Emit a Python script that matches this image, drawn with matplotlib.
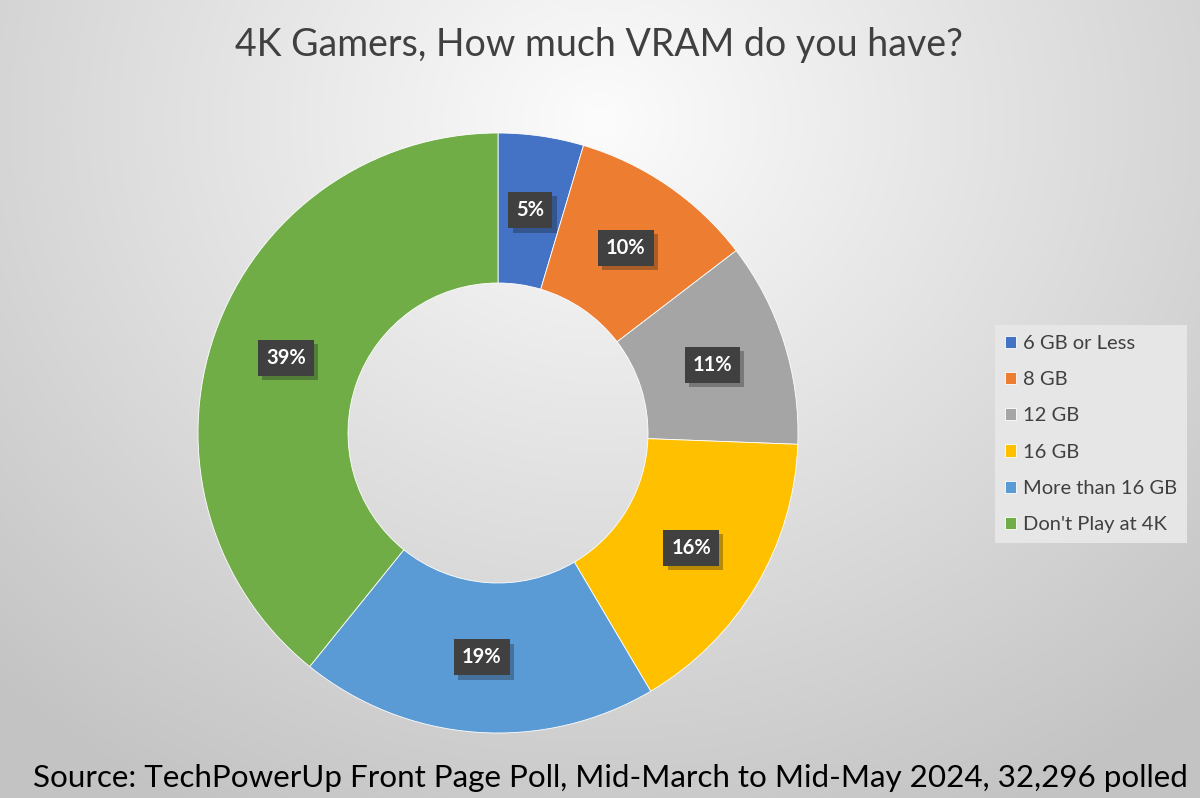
import numpy as np
import matplotlib
matplotlib.use("Agg")
import matplotlib.pyplot as plt
import matplotlib.patheffects as pe

plt.rcParams['font.family'] = ['Lato', 'DejaVu Sans']

# Poll data
categories = ["6 GB or Less", "8 GB", "12 GB", "16 GB", "More than 16 GB", "Don't Play at 4K"]
shares = [4.6, 10.0, 11.0, 15.9, 19.3, 39.2]
colors = ["#4472C4", "#ED7D31", "#A5A5A5", "#FFC000", "#5B9BD5", "#70AD47"]
title = "4K Gamers, How much VRAM do you have?"
source = "Source: TechPowerUp Front Page Poll, Mid-March to Mid-May 2024, 32,296 polled"

W, H = 1200, 798
fig = plt.figure(figsize=(W / 100, H / 100), dpi=100)

# radial grey background
bg = fig.add_axes([0, 0, 1, 1])
yy, xx = np.mgrid[0:H, 0:W]
r = np.sqrt(((xx - 600) / 900.0) ** 2 + ((yy - 120) / 800.0) ** 2)
shade = np.clip(252 - 58 * r, 195, 252) / 255.0
bg.imshow(np.dstack([shade, shade, shade]), aspect='auto', extent=[0, 1, 0, 1])
bg.set_axis_off()

# donut: center (498, 433) px, radius 300 px
ax = fig.add_axes([198 / W, (H - 733) / H, 600 / W, 600 / H])
wedges, _ = ax.pie(shares, colors=colors, startangle=90, counterclock=False,
                   radius=1.0, wedgeprops=dict(width=0.5, edgecolor='white', linewidth=0.6))
ax.set_xlim(-1, 1)
ax.set_ylim(-1, 1)
ax.set_axis_off()

# data labels in dark boxes with a drop shadow
cum = np.cumsum([0] + shares[:-1])
for c, s in zip(cum, shares):
    ang = np.deg2rad(90 - 360 * (c + s / 2) / 100.0)
    x, y = 0.75 * np.cos(ang), 0.75 * np.sin(ang)
    t = ax.text(x, y, f"{s:.0f}%", ha='center', va='center', fontsize=14.5, fontweight='bold',
                color='white', bbox=dict(boxstyle='square,pad=0.4', fc='#404040', ec='none'))
    t.get_bbox_patch().set_path_effects([pe.SimplePatchShadow(offset=(3, -3), alpha=0.3),
                                         pe.Normal()])

# legend
leg = fig.legend(wedges, categories, loc='center left', bbox_to_anchor=(995 / W, 1 - 434 / H),
                 fontsize=14.5, frameon=True, fancybox=False, handlelength=0.55, handleheight=0.55,
                 handletextpad=0.35, labelspacing=0.95, borderpad=0.5, borderaxespad=0)
leg.get_frame().set_facecolor('#e6e6e6')
leg.get_frame().set_edgecolor('none')
leg.get_frame().set_alpha(1)
for t in leg.get_texts():
    t.set_color('#404040')

fig.text(599 / W, 1 - 45 / H, title, ha='center', va='center', fontsize=27, color='#404040')
fig.text(610 / W, 1 - 778 / H, source, ha='center', va='center', fontsize=22.6, color='black')

fig.savefig("out.png", dpi=100)
